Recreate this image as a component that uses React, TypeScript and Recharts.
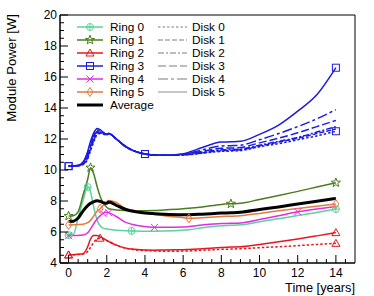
import React from 'react';
import { LineChart, Line, XAxis, YAxis, ReferenceArea } from 'recharts';

// time grid shared by every curve (years)
const times = [0, 0.25, 0.5, 0.75, 1, 1.15, 1.3, 1.5, 1.65, 1.8, 2, 2.1, 2.5, 3, 3.3, 4, 4.5, 5, 6, 6.3, 7, 8, 8.5, 9, 10, 11, 12, 13, 14];

const ring0Power = [5.8, 5.85, 6.9, 8.0, 8.9, 8.6, 7.7, 6.75, 6.4, 6.25, 6.2, 6.18, 6.12, 6.08, 6.07, 6.05, 6.05, 6.06, 6.12, 6.15, 6.27, 6.4, 6.43, 6.46, 6.66, 6.86, 7.06, 7.26, 7.48];
const ring1Power = [7.03, 7.05, 7.3, 8.35, 9.4, 10.15, 9.8, 8.9, 8.3, 7.9, 7.6, 7.5, 7.42, 7.38, 7.37, 7.37, 7.38, 7.42, 7.5, 7.53, 7.62, 7.78, 7.82, 7.85, 8.1, 8.35, 8.62, 8.9, 9.18];
const ring2Disk5 = [4.52, 4.54, 4.56, 4.6, 5.05, 5.55, 5.78, 5.78, 5.68, 5.6, 5.45, 5.38, 5.15, 4.96, 4.9, 4.84, 4.83, 4.84, 4.86, 4.87, 4.92, 5.0, 5.03, 5.05, 5.2, 5.37, 5.55, 5.75, 5.96];
const ring2Disk0 = [4.52, 4.53, 4.55, 4.58, 4.75, 5.0, 5.3, 5.55, 5.6, 5.55, 5.45, 5.4, 5.15, 4.95, 4.88, 4.8, 4.78, 4.76, 4.77, 4.78, 4.82, 4.88, 4.9, 4.92, 4.99, 5.05, 5.12, 5.2, 5.27];
const ring3Disk0 = [10.25, 10.26, 10.27, 10.35, 10.7, 11.25, 11.75, 12.28, 12.35, 12.32, 12.26, 12.35, 12.0, 11.5, 11.3, 11.03, 10.97, 10.95, 10.97, 10.99, 11.08, 11.2, 11.22, 11.25, 11.5, 11.7, 11.95, 12.2, 12.5];
const ring3Disk1 = [10.25, 10.26, 10.27, 10.37, 10.8, 11.35, 11.85, 12.35, 12.4, 12.35, 12.27, 12.35, 12.0, 11.5, 11.3, 11.03, 10.97, 10.95, 10.98, 11.0, 11.1, 11.25, 11.27, 11.3, 11.55, 11.8, 12.05, 12.35, 12.65];
const ring3Disk2 = [10.25, 10.26, 10.28, 10.4, 10.9, 11.45, 11.95, 12.42, 12.45, 12.38, 12.28, 12.35, 12.0, 11.5, 11.3, 11.03, 10.97, 10.95, 10.99, 11.02, 11.15, 11.3, 11.32, 11.35, 11.6, 11.85, 12.1, 12.45, 12.8];
const ring3Disk3 = [10.25, 10.26, 10.28, 10.43, 11.0, 11.55, 12.05, 12.5, 12.5, 12.4, 12.3, 12.35, 12.0, 11.5, 11.3, 11.03, 10.97, 10.95, 11.0, 11.05, 11.2, 11.4, 11.42, 11.45, 11.75, 12.05, 12.4, 12.8, 13.2];
const ring3Disk4 = [10.25, 10.26, 10.29, 10.46, 11.1, 11.7, 12.2, 12.58, 12.55, 12.42, 12.3, 12.35, 12.0, 11.5, 11.3, 11.03, 10.97, 10.95, 11.02, 11.08, 11.3, 11.55, 11.57, 11.6, 11.95, 12.35, 12.8, 13.3, 13.9];
const ring3Disk5 = [10.25, 10.26, 10.3, 10.5, 11.2, 11.85, 12.35, 12.68, 12.6, 12.45, 12.3, 12.35, 12.0, 11.5, 11.3, 11.03, 10.97, 10.95, 11.05, 11.15, 11.45, 11.8, 11.82, 11.85, 12.3, 12.9, 13.8, 14.85, 16.6];
const ring4Power = [5.76, 5.77, 5.78, 5.8, 5.95, 6.2, 6.5, 6.85, 7.05, 7.2, 7.27, 7.25, 7.0, 6.62, 6.5, 6.36, 6.3, 6.3, 6.32, 6.35, 6.45, 6.55, 6.56, 6.58, 6.8, 7.05, 7.3, 7.48, 7.65];
const ring5Power = [6.45, 6.46, 6.48, 6.5, 6.6, 6.75, 7.0, 7.35, 7.5, 7.7, 7.95, 8.03, 7.9, 7.5, 7.42, 7.25, 7.15, 7.05, 6.92, 6.88, 6.92, 7.0, 7.02, 7.05, 7.2, 7.37, 7.52, 7.66, 7.8];
const averagePower = [6.68, 6.7, 6.9, 7.35, 7.7, 7.85, 7.95, 8.02, 7.98, 7.9, 7.85, 7.93, 7.72, 7.45, 7.35, 7.22, 7.18, 7.15, 7.12, 7.12, 7.15, 7.22, 7.24, 7.27, 7.45, 7.62, 7.8, 7.98, 8.17];

// indices of the time grid where a marker is drawn
const ring0Marks = [0, 4, 14, 28];
const ring1Marks = [0, 5, 22, 28];
const ring2Disk5Marks = [0, 28];
const ring2Disk0Marks = [0, 8, 28];
const ring3Marks = [0, 15, 28];
const ring4Marks = [0, 9, 11, 16, 26];
const ring5Marks = [0, 8, 19, 28];

const ringNames = ['Ring 0', 'Ring 1', 'Ring 2', 'Ring 3', 'Ring 4', 'Ring 5'];
const diskNames = ['Disk 0', 'Disk 1', 'Disk 2', 'Disk 3', 'Disk 4', 'Disk 5'];
const xTicks = Array.from({ length: 30 }, (_, i) => i * 0.5);
const yTicks = Array.from({ length: 33 }, (_, i) => 4 + i * 0.5);

const ringColors = ['#5ed19c', '#4b7d1e', '#e8161e', '#1c1ce0', '#e02ee0', '#e5793f'];
const ringShapes = ['circlePlus', 'star', 'triangle', 'square', 'cross', 'diamond'];
const diskDash = ['2.5 2', '5 2', '6 2 2 2', '8 3', '10 3 3 3', ''];
const FONT = '"Liberation Sans", Arial, Helvetica, sans-serif';

const data = times.map((t, i) => ({
  t,
  ring0: ring0Power[i],
  ring1: ring1Power[i],
  ring2d5: ring2Disk5[i],
  ring2d0: ring2Disk0[i],
  ring3d0: ring3Disk0[i],
  ring3d1: ring3Disk1[i],
  ring3d2: ring3Disk2[i],
  ring3d3: ring3Disk3[i],
  ring3d4: ring3Disk4[i],
  ring3d5: ring3Disk5[i],
  ring4: ring4Power[i],
  ring5: ring5Power[i],
  avg: averagePower[i],
}));

const Marker = ({ shape, x, y, color }: { shape: string; x: number; y: number; color: string }) => {
  const p = { fill: 'none', stroke: color, strokeWidth: 1 };
  switch (shape) {
    case 'circlePlus':
      return (
        <g {...p}>
          <circle cx={x} cy={y} r={3.5} />
          <path d={`M${x - 3.5},${y}H${x + 3.5}M${x},${y - 3.5}V${y + 3.5}`} />
        </g>
      );
    case 'star': {
      const pts = [];
      for (let k = 0; k < 10; k++) {
        const r = k % 2 === 0 ? 4.8 : 2;
        const a = -Math.PI / 2 + (k * Math.PI) / 5;
        pts.push(`${x + r * Math.cos(a)},${y + r * Math.sin(a)}`);
      }
      return <polygon points={pts.join(' ')} {...p} />;
    }
    case 'triangle':
      return <polygon points={`${x},${y - 4} ${x - 4},${y + 3} ${x + 4},${y + 3}`} {...p} />;
    case 'square':
      return <rect x={x - 3.5} y={y - 3.5} width={7} height={7} {...p} />;
    case 'cross':
      return <path d={`M${x - 3.5},${y - 3.5}L${x + 3.5},${y + 3.5}M${x - 3.5},${y + 3.5}L${x + 3.5},${y - 3.5}`} {...p} />;
    default:
      return <polygon points={`${x},${y - 4.5} ${x + 3},${y} ${x},${y + 4.5} ${x - 3},${y}`} {...p} />;
  }
};

const markerDot = (shape: string, color: string, marks: number[]) => (props: any) => {
  const { cx, cy, index } = props;
  if (!marks.includes(index) || cx == null || cy == null) return <g key={`m-${index}`} />;
  return <Marker key={`m-${index}`} shape={shape} x={cx} y={cy} color={color} />;
};

const XTick = (props: any) => {
  const { x, y, payload } = props;
  const v = payload.value;
  const major = v % 2 === 0;
  return (
    <g>
      <line x1={x} x2={x} y1={y} y2={y - (major ? 8 : 4)} stroke="#000" />
      {major && (
        <text x={x} y={y + 13.5} textAnchor="middle" fontSize={12} fontFamily={FONT} fill="#000">
          {v}
        </text>
      )}
    </g>
  );
};

const YTick = (props: any) => {
  const { x, y, payload } = props;
  const v = payload.value;
  const major = v % 2 === 0;
  return (
    <g>
      <line x1={x} x2={x + (major ? 8 : 4)} y1={y} y2={y} stroke="#000" />
      {major && (
        <text x={x - 3} y={y + 4.3} textAnchor="end" fontSize={12} fontFamily={FONT} fill="#000">
          {v}
        </text>
      )}
    </g>
  );
};

const Legend = () => {
  const rowY = (i: number) => 27 + i * 13;
  return (
    <svg width={374} height={296} style={{ position: 'absolute', left: 0, top: 0, pointerEvents: 'none' }}>
      {ringNames.map((name, i) => (
        <g key={name}>
          <line x1={77} x2={103} y1={rowY(i)} y2={rowY(i)} stroke={ringColors[i]} strokeWidth={1.5} />
          <Marker shape={ringShapes[i]} x={90} y={rowY(i)} color={ringColors[i]} />
          <text x={110} y={rowY(i) + 4.2} fontSize={11.8} fontFamily={FONT}>{name}</text>
        </g>
      ))}
      <line x1={77} x2={103} y1={rowY(6)} y2={rowY(6)} stroke="#000" strokeWidth={3} />
      <text x={110} y={rowY(6) + 4.2} fontSize={11.8} fontFamily={FONT}>Average</text>
      {diskNames.map((name, i) => (
        <g key={name}>
          <line x1={158} x2={187} y1={rowY(i)} y2={rowY(i)} stroke="#a8a8a8" strokeWidth={1.3}
            strokeDasharray={diskDash[i] || undefined} />
          <text x={192} y={rowY(i) + 4.2} fontSize={11.8} fontFamily={FONT}>{name}</text>
        </g>
      ))}
      <text transform="rotate(-90 15.5 14)" x={15.5} y={14} textAnchor="end" fontSize={13.2} fontFamily={FONT}>
        Module Power [W]
      </text>
      <text x={355} y={291.5} textAnchor="end" fontSize={12.8} fontFamily={FONT}>Time [years]</text>
    </svg>
  );
};

const ring3Keys = ['ring3d0', 'ring3d1', 'ring3d2', 'ring3d3', 'ring3d4', 'ring3d5'];

export default function App() {
  return (
    <div style={{ position: 'absolute', left: 0, top: 0, width: 374, height: 296, background: '#fff' }}>
      <LineChart width={374} height={296} data={data} margin={{ top: 15, right: 19, bottom: 8, left: 15 }}>
        <XAxis dataKey="t" type="number" domain={[-0.45, 15]} ticks={xTicks} interval={0}
          tickSize={0} tickMargin={0} tick={<XTick />} height={25} stroke="#000" allowDataOverflow />
        <YAxis type="number" domain={[4, 20]} ticks={yTicks} interval={0}
          tickSize={0} tickMargin={0} tick={<YTick />} width={45} stroke="#000" allowDataOverflow />
        <ReferenceArea x1={-0.45} x2={15} y1={4} y2={20} fill="none" stroke="#000" strokeWidth={1} />
        <Line type="monotone" dataKey="ring0" stroke={ringColors[0]} strokeWidth={1.5}
          dot={markerDot(ringShapes[0], ringColors[0], ring0Marks)} isAnimationActive={false} />
        <Line type="monotone" dataKey="ring1" stroke={ringColors[1]} strokeWidth={1.5}
          dot={markerDot(ringShapes[1], ringColors[1], ring1Marks)} isAnimationActive={false} />
        <Line type="monotone" dataKey="ring2d5" stroke={ringColors[2]} strokeWidth={1.5}
          dot={markerDot(ringShapes[2], ringColors[2], ring2Disk5Marks)} isAnimationActive={false} />
        <Line type="monotone" dataKey="ring2d0" stroke={ringColors[2]} strokeWidth={1.5} strokeDasharray={diskDash[0]}
          dot={markerDot(ringShapes[2], ringColors[2], ring2Disk0Marks)} isAnimationActive={false} />
        {ring3Keys.map((k, i) => (
          <Line key={k} type="monotone" dataKey={k} stroke={ringColors[3]} strokeWidth={1.5}
            strokeDasharray={diskDash[i] || undefined}
            dot={i === 0 || i === 5 ? markerDot(ringShapes[3], ringColors[3], ring3Marks) : false}
            isAnimationActive={false} />
        ))}
        <Line type="monotone" dataKey="ring4" stroke={ringColors[4]} strokeWidth={1.5}
          dot={markerDot(ringShapes[4], ringColors[4], ring4Marks)} isAnimationActive={false} />
        <Line type="monotone" dataKey="ring5" stroke={ringColors[5]} strokeWidth={1.5}
          dot={markerDot(ringShapes[5], ringColors[5], ring5Marks)} isAnimationActive={false} />
        <Line type="monotone" dataKey="avg" stroke="#000" strokeWidth={3} dot={false} isAnimationActive={false} />
      </LineChart>
      <Legend />
    </div>
  );
}
